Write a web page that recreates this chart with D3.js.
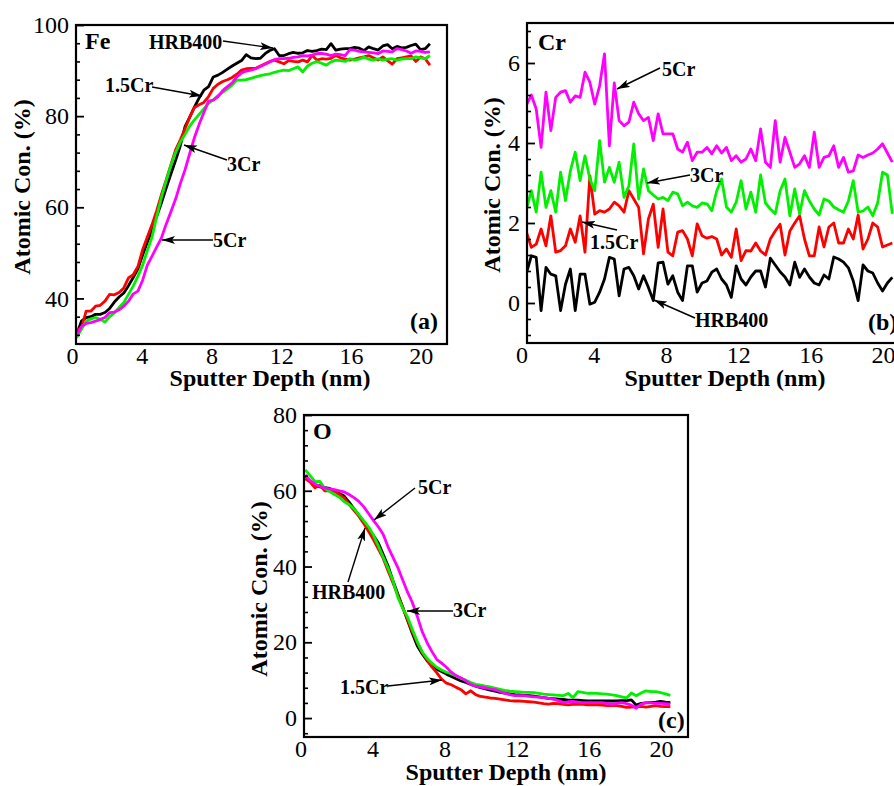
<!DOCTYPE html>
<html>
<head>
<meta charset="utf-8">
<script src="https://cdn.jsdelivr.net/npm/d3@7"></script>
<style>
  html, body { margin: 0; padding: 0; background: #fff; }
  svg { display: block; }
</style>
</head>
<body>
<svg id="fig" width="894" height="786"></svg>
<script>
// Sputter depth grid (nm), shared by every profile
const depth = [0.27,0.54,0.81,1.08,1.35,1.62,1.89,2.16,2.43,2.70,2.97,3.24,3.51,3.78,4.05,4.32,4.59,4.86,5.13,5.40,
  5.67,5.94,6.21,6.48,6.75,7.02,7.29,7.56,7.83,8.10,8.37,8.64,8.91,9.18,9.45,9.72,9.99,10.26,10.53,10.80,
  11.07,11.34,11.61,11.88,12.15,12.42,12.69,12.96,13.23,13.50,13.77,14.04,14.31,14.58,14.85,15.12,15.39,15.66,15.93,16.20,
  16.47,16.74,17.01,17.28,17.55,17.82,18.09,18.36,18.63,18.90,19.17,19.44,19.71,19.98,20.25,20.52];

const steels = ["HRB400", "1.5Cr", "3Cr", "5Cr"];

// (a) Fe atomic concentration (%)
const feHRB400 = [32.1,35.0,35.8,36.0,36.5,36.5,36.9,37.8,39.2,40.3, 41.2,42.8,44.6,46.5,49.5,52.3,55.0,58.0,61.0,64.2,
  67.3,70.3,73.5,77.7,79.8,82.0,84.0,85.7,86.5,88.6, 89.0,89.6,90.3,91.0,91.6,92.2,93.5,92.8,92.6,92.7,
  93.7,94.4,94.8,93.3,93.3,93.7,94.0,93.8,93.9,94.4, 94.2,94.4,94.7,94.6,95.9,94.5,94.7,94.8,94.8,95.1,
  94.9,94.4,95.2,94.8,94.5,95.4,95.7,94.8,95.3,95.0, 95.1,95.5,95.8,94.6,94.8,95.9];
const feCr15 = [33.2,33.4,37.2,37.2,38.3,38.5,39.4,40.9,40.8,41.3, 42.3,44.5,45.2,47.0,50.7,53.5,56.2,59.3,62.8,66.0,
  69.3,72.6,74.8,77.2,79.8,81.9,82.5,83.0,84.3,86.1, 87.0,87.6,88.0,88.5,89.2,90.1,90.4,90.5,90.5,91.0,
  91.5,92.0,92.3,91.9,91.5,92.2,92.0,91.9,92.3,91.9, 93.3,92.3,92.6,92.5,92.7,93.3,92.8,92.5,92.3,92.5,
  92.8,93.0,93.3,92.8,92.3,93.0,92.2,91.4,92.6,92.8, 93.0,93.2,92.0,93.0,92.6,91.2];
const feCr3 = [31.4,33.2,35.0,35.5,35.8,35.4,34.8,36.0,36.8,38.0, 39.1,40.9,42.7,44.9,47.3,50.5,53.5,58.0,62.2,65.8,
  69.2,72.0,74.3,76.0,77.8,79.2,80.4,81.6,82.8,83.6, 84.5,85.2,86.0,86.8,87.9,87.9,88.0,88.3,88.6,88.9,
  89.1,89.3,89.6,89.9,90.1,90.0,90.4,90.8,89.7,91.0, 91.6,92.0,91.6,91.2,91.9,92.3,92.2,92.0,92.6,92.3,
  92.5,93.0,92.5,92.3,92.6,92.3,92.5,92.6,92.3,92.5, 92.6,92.6,93.0,92.8,92.6,93.3];
const feCr5 = [31.9,33.8,34.5,34.7,35.0,35.4,35.8,36.9,37.0,37.5, 38.3,39.4,41.0,41.6,44.0,47.3,49.3,51.3,53.3,56.3,
  59.0,61.8,65.2,68.2,71.8,75.3,78.2,80.8,83.3,83.5, 84.3,85.6,86.5,87.3,88.6,89.5,89.9,90.1,90.4,90.9,
  91.4,91.9,92.4,92.6,92.6,92.7,92.9,93.0,93.3,93.2, 93.4,93.7,93.8,93.6,93.3,93.6,93.5,93.3,94.6,94.5,
  94.2,94.1,94.0,93.9,93.7,94.3,94.2,94.1,94.8,94.6, 94.3,93.8,94.3,94.2,94.0,94.1];

// (b) Cr atomic concentration (%)
const crHRB400 = [0.75,1.18,1.14,-0.19,0.89,0.72,0.68,-0.19,0.47,0.85, -0.19,0.72,0.72,-0.03,0.02,0.27,0.60,1.14,1.10,0.18,
  0.85,0.89,0.68,0.35,0.68,0.39,0.06,1.00,1.02,0.47, 0.68,0.27,0.06,0.93,0.93,0.27,0.50,0.55,0.77,0.85,
  0.60,0.45,0.14,0.93,0.60,0.45,0.65,0.80,0.80,0.40, 1.12,0.95,0.78,0.65,0.45,1.02,0.64,0.85,0.65,0.50,
  0.45,0.70,0.60,1.15,1.10,1.02,0.88,0.55,0.06,0.95, 0.80,0.75,0.50,0.30,0.50,0.64];
const crCr15 = [1.77,1.39,1.47,1.85,1.43,2.18,1.27,1.31,1.43,1.85, 1.52,2.18,1.27,3.18,2.22,2.31,2.27,2.35,2.52,2.43,
  2.27,2.81,2.60,2.39,1.23,2.10,2.47,1.39,2.35,1.27, 1.18,1.77,1.81,1.60,1.18,1.98,1.68,1.62,1.66,1.60,
  1.20,1.35,1.14,1.85,1.06,1.31,1.30,1.50,1.30,1.20, 1.60,1.80,1.97,1.20,1.80,2.00,2.18,1.60,1.18,1.18,
  1.90,1.40,1.90,2.00,1.50,1.50,1.85,1.60,2.20,1.35, 1.60,2.00,1.90,1.40,1.45,1.50];
const crCr3 = [2.35,2.81,2.27,3.27,2.39,2.81,2.27,3.27,2.56,3.30, 3.77,3.06,3.68,3.10,2.81,4.06,3.02,3.39,3.02,3.52,
  2.64,2.93,3.98,2.60,3.35,2.81,2.70,2.60,2.64,2.56, 2.77,2.73,2.43,2.52,2.43,2.39,2.50,2.48,2.31,2.80,
  3.10,2.40,2.27,2.52,3.06,2.35,2.77,2.27,3.20,2.50, 2.35,2.23,2.80,3.10,2.18,2.85,2.23,2.81,2.55,2.35,
  2.20,2.60,2.55,2.40,2.33,2.27,2.55,3.06,2.27,2.30, 2.40,2.18,2.50,3.27,3.20,2.23];
const crCr5 = [4.95,5.20,4.85,3.89,5.27,4.31,5.14,5.27,5.31,5.02, 5.18,5.14,5.77,5.52,4.97,5.43,6.23,3.93,5.50,4.56,
  4.43,4.52,5.02,4.73,4.56,4.64,4.06,4.73,4.23,4.23, 4.23,3.85,3.77,4.02,3.56,3.77,3.77,3.89,3.73,3.93,
  3.75,3.89,3.56,3.68,3.52,3.60,3.85,3.56,4.35,3.52, 3.39,4.56,3.52,4.14,3.77,3.39,3.48,3.68,3.39,4.27,
  3.39,3.64,3.68,3.93,3.39,3.64,3.27,3.30,3.70,3.64, 3.70,3.75,3.85,3.98,3.75,3.52];

// (c) O atomic concentration (%)
const oHRB400 = [64.0,62.5,61.3,61.0,60.8,60.6,60.0,59.3,58.6,57.0, 55.3,53.5,51.8,49.9,48.2,46.3,43.2,40.2,36.3,32.8,
  29.3,25.8,22.3,19.1,17.0,15.2,13.7,12.9,12.3,11.6, 11.0,10.4,9.8,9.4,8.9,8.4,8.0,7.7,7.4,7.1,
  6.8,6.6,6.4,6.2,6.1,6.0,5.9,5.8,5.6,5.4, 5.2,5.1,5.0,4.9,4.7,4.7,4.7,4.6,4.5,4.5,
  4.5,4.5,4.5,4.5,4.5,4.6,4.6,4.8,3.4,3.9, 4.0,4.1,4.2,4.4,4.2,4.1];
const oCr15 = [63.2,62.3,60.8,61.5,60.0,60.0,59.9,59.0,58.1,56.4, 54.8,53.3,51.4,49.3,47.1,44.7,42.2,38.9,35.7,32.5,
  29.3,26.0,22.8,20.0,17.4,15.4,13.5,12.0,10.3,9.2, 8.8,8.1,7.5,6.4,7.2,6.2,5.7,5.5,5.3,5.2,
  5.0,4.8,4.6,4.5,4.5,4.4,4.3,4.2,4.0,3.8, 3.7,3.9,3.8,3.6,3.5,3.6,3.7,3.6,3.5,3.5,
  3.5,3.4,3.3,3.3,3.3,3.1,2.8,2.9,3.0,3.1, 2.9,3.1,3.3,3.1,3.0,3.0];
const oCr3 = [65.5,64.0,62.4,62.5,60.6,59.8,59.0,58.3,57.1,56.4, 55.3,53.7,52.1,50.5,48.3,45.5,42.5,39.6,36.3,32.0,
  29.0,26.7,23.4,20.2,17.5,15.8,14.5,13.4,12.7,12.1, 11.7,11.1,10.5,10.0,9.4,8.9,8.7,8.4,8.2,7.9,
  7.6,7.3,7.1,7.0,6.9,6.8,6.8,6.7,6.5,6.3, 6.2,6.1,6.0,5.9,6.5,5.4,7.0,6.8,6.5,6.6,
  6.5,6.4,6.3,6.1,5.9,5.6,5.3,6.6,5.9,6.6, 7.2,7.0,7.0,6.7,6.4,6.0];
const oCr5 = [64.2,62.7,61.8,61.2,60.7,60.5,60.3,60.0,59.7,59.0, 58.2,57.2,55.8,54.0,52.2,50.5,48.5,45.2,42.5,39.8,
  36.5,33.3,30.5,26.9,22.9,20.0,17.6,15.5,14.5,13.4, 12.1,11.2,10.6,9.8,8.9,8.4,8.2,8.0,7.7,7.5,
  7.0,6.6,6.2,5.9,5.9,5.9,5.7,5.6,5.5,5.4, 5.2,5.0,4.6,4.1,4.3,4.4,4.2,4.1,4.1,4.1,
  4.1,4.1,3.9,3.7,3.9,4.1,3.8,3.4,2.6,3.7, 4.1,4.0,3.9,3.9,3.8,3.7];

// Axis tick values
const xTickValues = [0, 4, 8, 12, 16, 20];
const feTicks = [40, 60, 80, 100];
const crTicks = [0, 2, 4, 6];
const oTicks = [0, 20, 40, 60, 80];

// ---------------------------------------------------------------- drawing
const colors = { "HRB400": "#000000", "1.5Cr": "#ff0000", "3Cr": "#00f000", "5Cr": "#ff00ff" };
const SERIF = "'Liberation Serif', 'Times New Roman', Times, serif";

const panels = [
  {
    key: "a", element: "Fe", values: [feHRB400, feCr15, feCr3, feCr5],
    box: { left: 76, right: 447, top: 25, bottom: 344 },
    xDomain: [0.23, 21.5], yDomain: [30, 100], yTicks: feTicks, minorStep: 4,
    xTitle: { x: 270, y: 386 }, yTitle: { x: 30, y: 187 },
    elementPos: { x: 85, y: 49 }, tagPos: { x: 438, y: 329 },
    notes: [
      { text: "HRB400", tx: 149, ty: 49, from: [223, 41], to: [273, 48] },
      { text: "1.5Cr", tx: 105, ty: 92, from: [152, 87], to: [202, 96] },
      { text: "3Cr", tx: 227, ty: 171, from: [227, 160], to: [184, 145] },
      { text: "5Cr", tx: 213, ty: 247, from: [213, 240], to: [162, 240] }
    ]
  },
  {
    key: "b", element: "Cr", values: [crHRB400, crCr15, crCr3, crCr5],
    box: { left: 527, right: 910, top: 23, bottom: 343 },
    xDomain: [0.3, 21.5], yDomain: [-1, 7], yTicks: crTicks, minorStep: 0.4,
    xTitle: { x: 725, y: 386 }, yTitle: { x: 500, y: 185 },
    elementPos: { x: 538, y: 50 }, tagPos: { x: 868, y: 330 },
    notes: [
      { text: "5Cr", tx: 662, ty: 76, from: [660, 68], to: [617, 89] },
      { text: "3Cr", tx: 690, ty: 182, from: [690, 175], to: [647, 183] },
      { text: "1.5Cr", tx: 590, ty: 249, from: [617, 230], to: [582, 222] },
      { text: "HRB400", tx: 695, ty: 327, from: [695, 318], to: [654, 300] }
    ]
  },
  {
    key: "c", element: "O", values: [oHRB400, oCr15, oCr3, oCr5],
    box: { left: 304, right: 688, top: 415, bottom: 737 },
    xDomain: [0.2, 21.5], yDomain: [-5, 80], yTicks: oTicks, minorStep: 4,
    xTitle: { x: 506, y: 780 }, yTitle: { x: 267, y: 589 },
    elementPos: { x: 313, y: 439 }, tagPos: { x: 658, y: 728 },
    notes: [
      { text: "5Cr", tx: 418, ty: 494, from: [415, 488], to: [374, 520] },
      { text: "HRB400", tx: 312, ty: 599, from: [348, 582], to: [365, 528] },
      { text: "3Cr", tx: 453, ty: 617, from: [453, 611], to: [407, 611] },
      { text: "1.5Cr", tx: 340, ty: 694, from: [388, 686], to: [442, 680] }
    ]
  }
];

const svg = d3.select("#fig");
svg.append("rect").attr("width", 894).attr("height", 786).attr("fill", "#fff");

const defs = svg.append("defs");
defs.append("marker")
  .attr("id", "head")
  .attr("markerUnits", "userSpaceOnUse")
  .attr("markerWidth", 14).attr("markerHeight", 8)
  .attr("refX", 13).attr("refY", 4)
  .attr("orient", "auto")
  .append("path")
  .attr("d", "M0,0 L13,4 L0,8 L3,4 Z")
  .attr("fill", "#000");

function styleAxisText(g, size, weight) {
  g.attr("font-family", null).attr("font-size", null);
  g.selectAll("text")
    .style("font-family", SERIF)
    .style("font-size", size + "px")
    .style("font-weight", weight)
    .attr("fill", "#000");
}

panels.forEach(p => {
  const b = p.box;
  const x = d3.scaleLinear().domain(p.xDomain).range([b.left, b.right]);
  const y = d3.scaleLinear().domain(p.yDomain).range([b.bottom, b.top]);
  const g = svg.append("g").attr("class", "panel-" + p.key);

  defs.append("clipPath").attr("id", "clip-" + p.key)
    .append("rect")
    .attr("x", b.left).attr("y", b.top)
    .attr("width", b.right - b.left).attr("height", b.bottom - b.top);

  // depth profiles, one path per steel
  const line = d3.line()
    .x(d => x(d[0]))
    .y(d => y(d[1]));
  const plot = g.append("g").attr("clip-path", `url(#clip-${p.key})`);
  steels.forEach((name, i) => {
    const pts = depth.map((dv, k) => [dv, p.values[i][k]]);
    plot.append("path")
      .datum(pts)
      .attr("d", line)
      .attr("fill", "none")
      .attr("stroke", colors[name])
      .attr("stroke-width", 2.8)
      .attr("stroke-linejoin", "round");
  });

  // minor y ticks (inward), five per major interval
  const [y0, y1] = p.yDomain;
  const minorVals = [];
  const first = Math.ceil(y0 / p.minorStep);
  for (let k = first; k * p.minorStep <= y1 + 1e-9; k++) {
    const v = +(k * p.minorStep).toFixed(4);
    if (!p.yTicks.some(t => Math.abs(t - v) < 1e-6) && v > y0 && v < y1) minorVals.push(v);
  }
  g.append("g")
    .attr("transform", `translate(${b.left},0)`)
    .call(d3.axisLeft(y).tickValues(minorVals).tickSize(-4).tickFormat(""))
    .call(a => a.select(".domain").remove())
    .call(a => a.selectAll("line").attr("stroke", "#000").attr("stroke-width", 1.6));

  // major y ticks + labels
  const yAxis = g.append("g")
    .attr("transform", `translate(${b.left},0)`)
    .call(d3.axisLeft(y).tickValues(p.yTicks).tickSize(-8).tickPadding(7).tickFormat(d3.format("d")))
    .call(a => a.select(".domain").remove())
    .call(a => a.selectAll("line").attr("stroke", "#000").attr("stroke-width", 1.8));
  styleAxisText(yAxis, 24, "normal");

  // x labels (no tick marks)
  const xAxis = g.append("g")
    .attr("transform", `translate(0,${b.bottom})`)
    .call(d3.axisBottom(x).tickValues(xTickValues).tickSize(0).tickPadding(3).tickFormat(d3.format("d")))
    .call(a => a.select(".domain").remove());
  styleAxisText(xAxis, 24, "normal");

  // frame
  g.append("rect")
    .attr("x", b.left).attr("y", b.top)
    .attr("width", b.right - b.left).attr("height", b.bottom - b.top)
    .attr("fill", "none").attr("stroke", "#000").attr("stroke-width", 2.2);

  // axis titles
  g.append("text")
    .attr("x", p.xTitle.x).attr("y", p.xTitle.y)
    .attr("text-anchor", "middle")
    .style("font-family", SERIF).style("font-size", "24px").style("font-weight", "bold")
    .text("Sputter Depth (nm)");
  g.append("text")
    .attr("transform", `translate(${p.yTitle.x},${p.yTitle.y}) rotate(-90)`)
    .attr("text-anchor", "middle")
    .style("font-family", SERIF).style("font-size", "24px").style("font-weight", "bold")
    .text("Atomic Con. (%)");

  // element symbol and panel tag
  g.append("text")
    .attr("x", p.elementPos.x).attr("y", p.elementPos.y)
    .style("font-family", SERIF).style("font-size", "24px").style("font-weight", "bold")
    .text(p.element);
  g.append("text")
    .attr("x", p.tagPos.x).attr("y", p.tagPos.y)
    .attr("text-anchor", p.key === "a" ? "end" : "start")
    .style("font-family", SERIF).style("font-size", "24px").style("font-weight", "bold")
    .text(`(${p.key})`);

  // series callouts
  p.notes.forEach(n => {
    g.append("line")
      .attr("x1", n.from[0]).attr("y1", n.from[1])
      .attr("x2", n.to[0]).attr("y2", n.to[1])
      .attr("stroke", "#000").attr("stroke-width", 1.4)
      .attr("marker-end", "url(#head)");
    g.append("text")
      .attr("x", n.tx).attr("y", n.ty)
      .style("font-family", SERIF).style("font-size", "20px").style("font-weight", "bold")
      .text(n.text);
  });
});
</script>
</body>
</html>
